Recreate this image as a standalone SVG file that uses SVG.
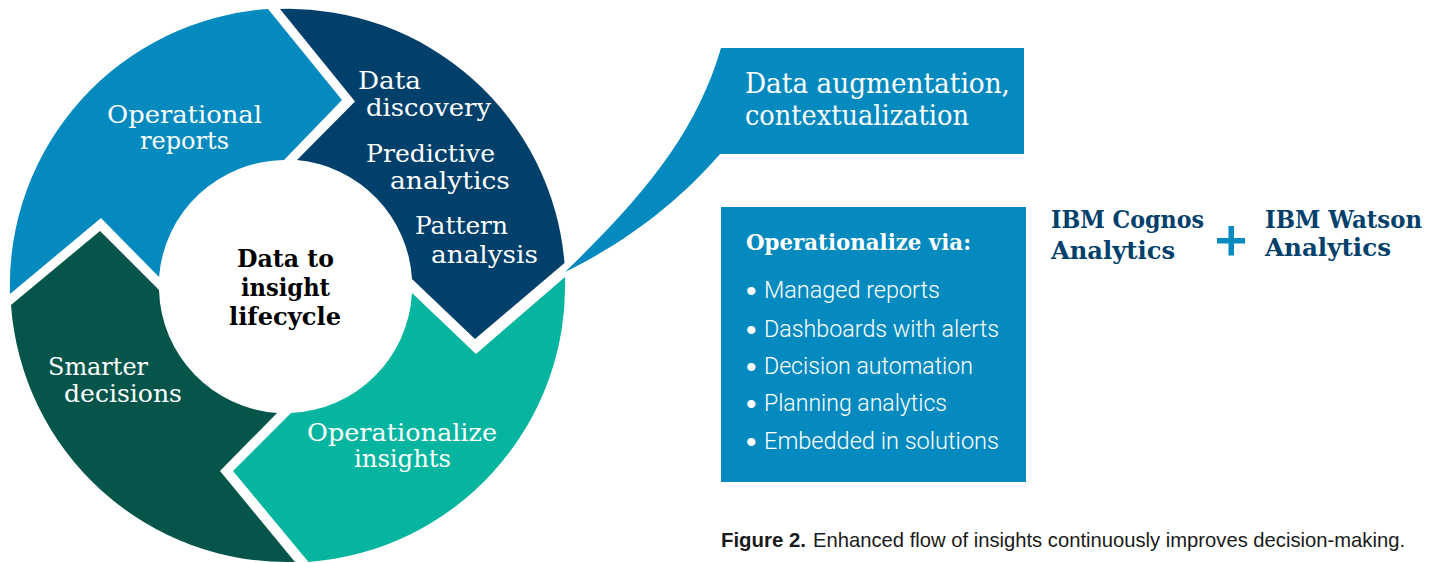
<svg xmlns="http://www.w3.org/2000/svg" width="1441" height="563" viewBox="0 0 1441 563">
<style>
text{font-family:"DejaVu Serif","Liberation Serif",serif}
.w{fill:#fff;font-size:25px;font-weight:400}
.n{fill:#fff;font-size:24px;font-weight:400}
.c{fill:#000;font-size:25px;font-weight:700}
.h{fill:#fff;font-size:28px}
.v{fill:#fff;font-size:22px;font-weight:700}
.b{fill:#fff;font-family:Roboto,"Liberation Sans",Arial,sans-serif;font-size:23px;font-weight:300}
.d{fill:#fff;font-family:"Liberation Sans",Arial,sans-serif;font-size:30px}
.i{fill:#00406b;font-size:25px;font-weight:700}
</style>
<rect width="1441" height="563" fill="#fff"/>
<g id="connectors"></g>
<g id="operational-reports">
<path fill="#048abf" d="M268 9A277 277 0 0 0 10 294L101 218L159 277A127 127 0 0 1 284 160L342 100Z"/>
<text class="n"><tspan x="107" y="123" textLength="155" lengthAdjust="spacingAndGlyphs">Operational</tspan><tspan x="140" y="149" textLength="89" lengthAdjust="spacingAndGlyphs">reports</tspan></text>
</g>
<g id="data-discovery">
<path fill="#00406b" d="M280 9A277 277 0 0 1 564.500 263L475 339L412 279A127 127 0 0 0 297 160L355 101.500Z"/>
<text class="w"><tspan x="358" y="89" textLength="63" lengthAdjust="spacingAndGlyphs">Data</tspan><tspan x="366" y="116" textLength="125" lengthAdjust="spacingAndGlyphs">discovery</tspan><tspan x="366" y="162" textLength="129" lengthAdjust="spacingAndGlyphs">Predictive</tspan><tspan x="390" y="189" textLength="120" lengthAdjust="spacingAndGlyphs">analytics</tspan><tspan x="415" y="234" textLength="93" lengthAdjust="spacingAndGlyphs">Pattern</tspan><tspan x="431" y="263" textLength="107" lengthAdjust="spacingAndGlyphs">analysis</tspan></text>
</g>
<g id="operationalize-insights">
<path fill="#05b59f" d="M565 277A277 277 0 0 1 308.500 562L233 471L291 413A127 127 0 0 0 412 293L476 354Z"/>
<text class="n"><tspan x="307" y="441" textLength="190" lengthAdjust="spacingAndGlyphs">Operationalize</tspan><tspan x="354" y="467" textLength="97" lengthAdjust="spacingAndGlyphs">insights</tspan></text>
</g>
<g id="smarter-decisions">
<path fill="#05554b" d="M11 305A277 277 0 0 0 295 562L220 471L277 413A127 127 0 0 1 159 290L100 231Z"/>
<text class="w"><tspan x="48" y="375" textLength="100" lengthAdjust="spacingAndGlyphs">Smarter</tspan><tspan x="64" y="402" textLength="118" lengthAdjust="spacingAndGlyphs">decisions</tspan></text>
</g>
<g id="center">
<text class="c"><tspan x="237" y="267" textLength="97" lengthAdjust="spacingAndGlyphs">Data to</tspan><tspan x="241" y="296" textLength="89" lengthAdjust="spacingAndGlyphs">insight</tspan><tspan x="229" y="325" textLength="112" lengthAdjust="spacingAndGlyphs">lifecycle</tspan></text>
</g>
<g id="data-augmentation">
<path fill="#048abf" d="M721 48H1024V154H720C680 200 630 240 565 272C648 192 697 130 721 48Z"/>
<text class="h"><tspan x="745" y="93" textLength="265" lengthAdjust="spacingAndGlyphs">Data augmentation,</tspan><tspan x="745" y="125" textLength="224" lengthAdjust="spacingAndGlyphs">contextualization</tspan></text>
</g>
<g id="operationalize-via">
<rect x="721" y="207" width="305" height="275" fill="#048abf"/>
<text class="v" x="746" y="250" textLength="225" lengthAdjust="spacingAndGlyphs">Operationalize via:</text>
<text class="d"><tspan x="746" y="301">•</tspan><tspan x="746" y="340">•</tspan><tspan x="746" y="377">•</tspan><tspan x="746" y="414">•</tspan><tspan x="746" y="452">•</tspan></text>
<text class="b"><tspan x="764" y="298" textLength="176" lengthAdjust="spacingAndGlyphs">Managed reports</tspan><tspan x="764" y="337" textLength="235" lengthAdjust="spacingAndGlyphs">Dashboards with alerts</tspan><tspan x="764" y="374" textLength="209" lengthAdjust="spacingAndGlyphs">Decision automation</tspan><tspan x="764" y="411" textLength="183" lengthAdjust="spacingAndGlyphs">Planning analytics</tspan><tspan x="764" y="449" textLength="235" lengthAdjust="spacingAndGlyphs">Embedded in solutions</tspan></text>
</g>
<g id="ibm-cognos">
<text class="i"><tspan x="1051" y="228" textLength="153" lengthAdjust="spacingAndGlyphs">IBM Cognos</tspan><tspan x="1051" y="259" textLength="124" lengthAdjust="spacingAndGlyphs">Analytics</tspan></text>
</g>
<g id="plus"><path fill="#048abf" d="M1228.500 226h5.500v12h11v5.500h-11v12h-5.500v-12h-11.500v-5.500h11.500z"/></g>
<g id="ibm-watson">
<text class="i"><tspan x="1265" y="228" textLength="157" lengthAdjust="spacingAndGlyphs">IBM Watson</tspan><tspan x="1265" y="256" textLength="126" lengthAdjust="spacingAndGlyphs">Analytics</tspan></text>
</g>
<g id="caption">
<text y="547" style="font-family:'Liberation Sans',Arial,sans-serif;font-size:20.200px" fill="#1a1a1a"><tspan x="721" font-weight="700" textLength="85" lengthAdjust="spacingAndGlyphs">Figure 2.</tspan><tspan x="813" textLength="592" lengthAdjust="spacingAndGlyphs">Enhanced flow of insights continuously improves decision-making.</tspan></text>
</g>
</svg>
